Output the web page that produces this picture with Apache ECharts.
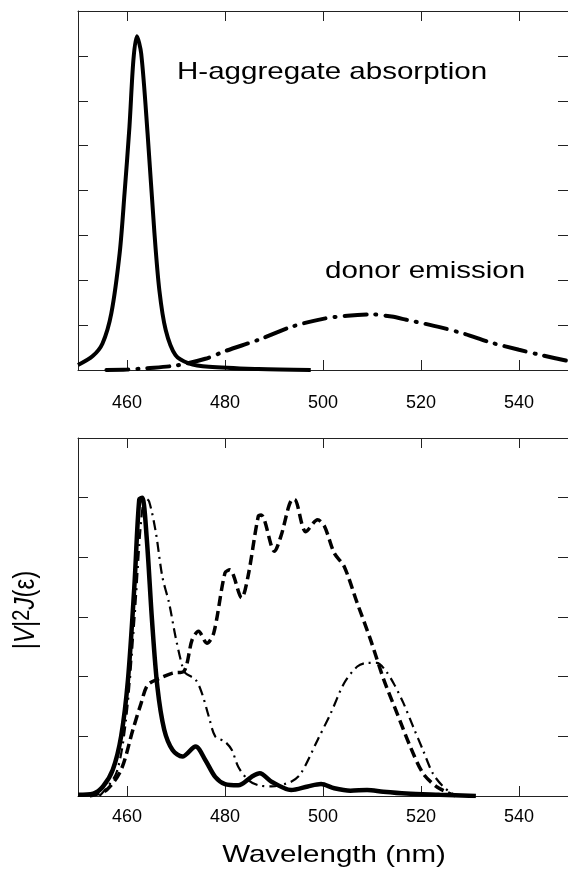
<!DOCTYPE html>
<html>
<head>
<meta charset="utf-8">
<script src="https://cdn.jsdelivr.net/npm/echarts@6/dist/echarts.min.js"></script>
<style>
html,body{margin:0;padding:0;background:#fff;}
#c{width:568px;height:871px;}
</style>
</head>
<body>
<div id="c"></div>
<script>
// ---- data ----
const xTicks = [460, 480, 500, 520, 540];

// top panel: H-aggregate absorption (solid)
const absWl = [450, 453, 455, 456.8, 458.5, 459.5, 460.5, 461.3, 462, 462.9, 464.2, 465.6, 466.6, 467.9, 469.9, 472.6, 476.7, 486.8, 497.5];
const absVal = [0.11, 0.31, 0.59, 1.26, 2.6, 3.94, 5.42, 6.9, 7.44, 7.05, 5.27, 3.05, 1.78, 0.89, 0.33, 0.15, 0.07, 0.02, 0.0];

// top panel: donor emission (dash-dot)
const emWl = [455.8, 460, 464, 470, 476, 480, 487, 493.5, 500, 505, 510, 514, 517, 524, 529, 534, 540, 545, 550];
const emVal = [0, 0.01, 0.04, 0.1, 0.25, 0.42, 0.68, 0.96, 1.14, 1.21, 1.24, 1.19, 1.12, 0.95, 0.8, 0.62, 0.45, 0.32, 0.2];

// bottom panel: solid bold
const s1Wl = [450, 453.1, 455.1, 457.1, 458.8, 460.2, 461.5, 462.5, 463.1, 464, 465.1, 466.2, 467.6, 469.3, 471.3, 474, 476, 478, 480, 482.7, 485.4, 487.1, 489.5, 493.5, 496.9, 499.6, 502.3, 505.6, 509, 512.3, 517, 523.8, 531.2];
const s1Val = [0.02, 0.04, 0.16, 0.44, 1.0, 1.95, 3.51, 4.97, 5.0, 4.35, 2.95, 1.83, 1.11, 0.77, 0.66, 0.83, 0.6, 0.32, 0.2, 0.18, 0.32, 0.38, 0.24, 0.1, 0.16, 0.2, 0.13, 0.09, 0.1, 0.07, 0.04, 0.02, 0];

// bottom panel: dashed
const s2Wl = [452.4, 455.8, 458.8, 461.2, 462.9, 464.2, 466.6, 469.3, 471.6, 473.3, 474.6, 476.3, 477.7, 480, 481, 483.4, 484.7, 486.8, 487.4, 490.1, 491.4, 493.8, 494.2, 496.5, 498.9, 500.3, 502.3, 504.3, 507, 509.7, 512.4, 515.1, 517.8, 520.4, 523.1, 525.1, 527];
const s2Val = [0, 0.1, 0.44, 1.11, 1.56, 1.86, 1.97, 2.06, 2.09, 2.62, 2.76, 2.56, 2.73, 3.74, 3.79, 3.32, 3.68, 4.69, 4.71, 4.1, 4.35, 4.97, 4.97, 4.43, 4.63, 4.52, 4.07, 3.85, 3.23, 2.62, 1.95, 1.39, 0.83, 0.38, 0.16, 0.07, 0];

// bottom panel: thin dash-dot
const s3Wl = [454.4, 457.8, 459.8, 461.5, 462.9, 463.7, 464.5, 465.9, 467.2, 468.6, 469.9, 471.3, 471.9, 474, 475.3, 476.7, 478, 480, 481.4, 482.7, 484.7, 486.8, 489.5, 493.5, 495.5, 498.9, 501.6, 504.3, 507, 509, 511, 512.7, 514.4, 516.4, 518.4, 520.4, 522.4, 524.5, 526.5, 527.8];
const s3Val = [0, 0.38, 1.28, 2.95, 4.63, 4.99, 4.94, 4.41, 3.68, 3.23, 2.67, 2.17, 2.06, 1.95, 1.72, 1.33, 1.0, 0.91, 0.77, 0.49, 0.27, 0.18, 0.16, 0.24, 0.38, 0.94, 1.39, 1.89, 2.17, 2.23, 2.23, 2.11, 1.89, 1.56, 1.16, 0.77, 0.38, 0.16, 0.04, 0];

// ---- chart ----
const zip = (a, b) => a.map((x, i) => [x, b[i]]);
const FONT = '"Liberation Sans", Arial, Helvetica, sans-serif';
const AX = '#222';

function xAxes(g, labelMargin) {
  return [
    {
      gridIndex: g, type: 'value', min: 450, max: 550, position: 'bottom',
      axisLine: { show: true, onZero: false, lineStyle: { color: AX, width: 1 } },
      axisTick: { show: true, inside: true, length: 10, customValues: xTicks, lineStyle: { color: AX } },
      axisLabel: { show: true, customValues: xTicks, color: '#000', fontSize: 18, fontFamily: FONT, margin: labelMargin },
      splitLine: { show: false }
    },
    {
      gridIndex: g, type: 'value', min: 450, max: 550, position: 'top',
      axisLine: { show: true, onZero: false, lineStyle: { color: AX, width: 1 } },
      axisTick: { show: true, inside: true, length: 10, customValues: xTicks, lineStyle: { color: AX } },
      axisLabel: { show: false },
      splitLine: { show: false }
    }
  ];
}
function yAxes(g, max) {
  const base = {
    gridIndex: g, type: 'value', min: 0, max: max, interval: 1,
    axisLine: { show: true, onZero: false, lineStyle: { color: AX, width: 1 } },
    axisTick: { show: true, inside: true, length: 10, lineStyle: { color: AX } },
    axisLabel: { show: false },
    splitLine: { show: false }
  };
  return [Object.assign({ position: 'left' }, base), Object.assign({ position: 'right' }, base)];
}

const chart = echarts.init(document.getElementById('c'), null, { renderer: 'canvas' });
const option = {
  backgroundColor: '#fff',
  animation: false,
  grid: [
    { left: 78, top: 11, width: 495, height: 359 },
    { left: 78, top: 438, width: 495, height: 358 }
  ],
  xAxis: [...xAxes(0, 24), ...xAxes(1, 12)],
  yAxis: [...yAxes(0, 8), ...yAxes(1, 6)],
  series: [
    { type: 'line', xAxisIndex: 0, yAxisIndex: 0, data: zip(absWl, absVal), showSymbol: false, smooth: 0.3,
      lineStyle: { color: '#000', width: 4 } },
    { type: 'line', xAxisIndex: 0, yAxisIndex: 0, data: zip(emWl, emVal), showSymbol: false, smooth: 0.3,
      lineStyle: { color: '#000', width: 4, type: [22, 9, 1, 9], cap: 'round' } },
    { type: 'line', xAxisIndex: 2, yAxisIndex: 2, data: zip(s1Wl, s1Val), showSymbol: false, smooth: 0.3,
      lineStyle: { color: '#000', width: 4.5 } },
    { type: 'line', xAxisIndex: 2, yAxisIndex: 2, data: zip(s2Wl, s2Val), showSymbol: false, smooth: 0.3,
      lineStyle: { color: '#000', width: 3.5, type: [10, 5] } },
    { type: 'line', xAxisIndex: 2, yAxisIndex: 2, data: zip(s3Wl, s3Val), showSymbol: false, smooth: 0.3,
      lineStyle: { color: '#000', width: 2.2, type: [10, 5, 2, 5] } }
  ],
  graphic: [
    { type: 'text', x: 177, y: 72, scaleX: 1.23, style: { text: 'H-aggregate absorption', fill: '#000', font: '24px ' + FONT, textAlign: 'left', textVerticalAlign: 'middle' } },
    { type: 'text', x: 325, y: 271, scaleX: 1.23, style: { text: 'donor emission', fill: '#000', font: '24px ' + FONT, textAlign: 'left', textVerticalAlign: 'middle' } },
    { type: 'text', x: 334, y: 855, scaleX: 1.23, style: { text: 'Wavelength (nm)', fill: '#000', font: '24px ' + FONT, textAlign: 'center', textVerticalAlign: 'middle' } },
    { type: 'text', x: 26, y: 610, rotation: Math.PI / 2, scaleY: 1.2,
      style: {
        text: '{v||}{i|V}{v||}{s|2}{i|J}{v|(ε)}',
        fill: '#000', font: '24px ' + FONT, textAlign: 'center', textVerticalAlign: 'middle',
        rich: {
          v: { fontSize: 24, fontFamily: FONT, fill: '#000' },
          i: { fontSize: 24, fontFamily: FONT, fontStyle: 'italic', fill: '#000' },
          s: { fontSize: 20, fontFamily: FONT, fill: '#000', verticalAlign: 'top', padding: [0, 0, 6, 0] }
        }
      } }
  ]
};
chart.setOption(option);
</script>
</body>
</html>
